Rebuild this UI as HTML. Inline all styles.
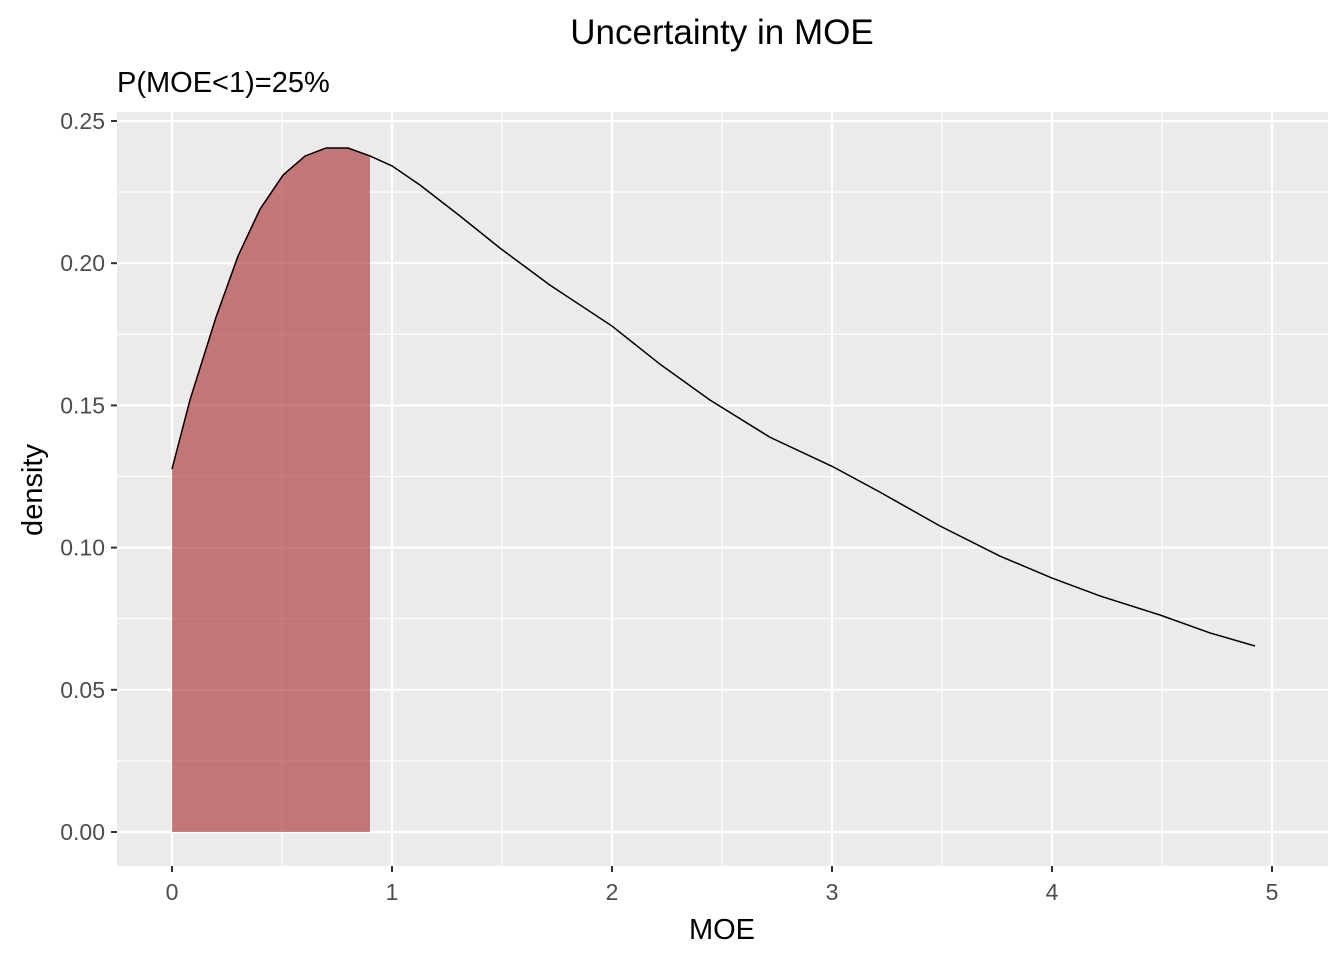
<!DOCTYPE html>
<html><head><meta charset="utf-8"><style>
body{margin:0;background:#fff;font-family:"Liberation Sans",Arial,sans-serif;}
</style></head><body>
<svg id="chart" width="1344" height="960" xmlns="http://www.w3.org/2000/svg">
<text x="722" y="44" font-size="35" text-anchor="middle" fill="#000">Uncertainty in MOE</text>
<text x="117" y="92" font-size="29" fill="#000">P(MOE&lt;1)=25%</text>
<rect x="117" y="112" width="1211" height="754" fill="#ebebeb"/>
<g id="grid"></g>
<g id="marks"></g>
<g id="axes"></g>
<text x="722" y="939" font-size="29" text-anchor="middle" fill="#000">MOE</text>
<text x="0" y="0" font-size="29" text-anchor="middle" fill="#000" transform="translate(42,490) rotate(-90)">density</text>
</svg>
<script>
const xValues=[0,0.082,0.2,0.3,0.4,0.505,0.605,0.7,0.8,0.9,1.0,1.127,1.309,1.491,1.718,2.0,2.218,2.445,2.718,3.0,3.218,3.491,3.764,4.0,4.218,4.491,4.718,4.923];
const densities=[0.1276,0.152,0.181,0.2025,0.219,0.231,0.2377,0.2405,0.2405,0.2377,0.2342,0.2275,0.2166,0.2053,0.1923,0.1779,0.1645,0.1519,0.1388,0.1286,0.1195,0.1076,0.0970,0.0893,0.0830,0.0763,0.0700,0.0654];
const fillLimit=[0.9];
const xTicks=[0,1,2,3,4,5];
const yTicks=[0,0.05,0.10,0.15,0.20,0.25];
const yTickLabels=["0.00","0.05","0.10","0.15","0.20","0.25"];
const NS="http://www.w3.org/2000/svg";
const sx=v=>172+v*220, sy=v=>832-v*2844;
const L=117,R=1328,T=112,B=866;
function mk(p,tag,attrs){const e=document.createElementNS(NS,tag);for(const k in attrs)e.setAttribute(k,attrs[k]);p.appendChild(e);return e;}
const grid=document.getElementById('grid'),marks=document.getElementById('marks'),axes=document.getElementById('axes');
for(let i=0;i<yTicks.length;i++){
  const y=sy(yTicks[i]);
  let g=mk(grid,'line',{x1:L,x2:R,y1:y,y2:y,stroke:'#fff','stroke-width':2.2});
  
  
  if(i<yTicks.length-1){const ym=sy((yTicks[i]+yTicks[i+1])/2);
    let m=mk(grid,'line',{x1:L,x2:R,y1:ym,y2:ym,stroke:'#fff','stroke-width':1.1});
    
    }
  let t=mk(axes,'line',{x1:L-6,x2:L,y1:y,y2:y,stroke:'#333','stroke-width':2});
  
  
  let tx=mk(axes,'text',{x:L-12,y:y+8,'font-size':23,'text-anchor':'end',fill:'#4d4d4d'});
  tx.textContent=yTickLabels[i];
  
  
}
for(let i=0;i<xTicks.length;i++){
  const x=sx(xTicks[i]);
  let g=mk(grid,'line',{x1:x,x2:x,y1:T,y2:B,stroke:'#fff','stroke-width':2.2});
  
  
  if(i<xTicks.length-1){const xm=sx((xTicks[i]+xTicks[i+1])/2);
    let m=mk(grid,'line',{x1:xm,x2:xm,y1:T,y2:B,stroke:'#fff','stroke-width':1.1});
    
    }
  let t=mk(axes,'line',{x1:x,x2:x,y1:B,y2:B+6,stroke:'#333','stroke-width':2});
  
  
  let tx=mk(axes,'text',{x:x,y:B+34,'font-size':23,'text-anchor':'middle',fill:'#4d4d4d'});
  tx.textContent=String(xTicks[i]);
  
  
}
let fp=[sx(xValues[0])+','+sy(0)];
let lastX=xValues[0];
for(let i=0;i<xValues.length;i++){if(xValues[i]<=fillLimit[0]){fp.push(sx(xValues[i])+','+sy(densities[i]));lastX=xValues[i];}}
fp.push(sx(lastX)+','+sy(0));
let area=mk(marks,'polygon',{points:fp.join(' '),fill:'#a52a2a','fill-opacity':0.6});


let lp=xValues.map((v,i)=>sx(v)+','+sy(densities[i])).join(' ');
let line=mk(marks,'polyline',{points:lp,fill:'none',stroke:'#000','stroke-width':1.5});


</script>
</body></html>
